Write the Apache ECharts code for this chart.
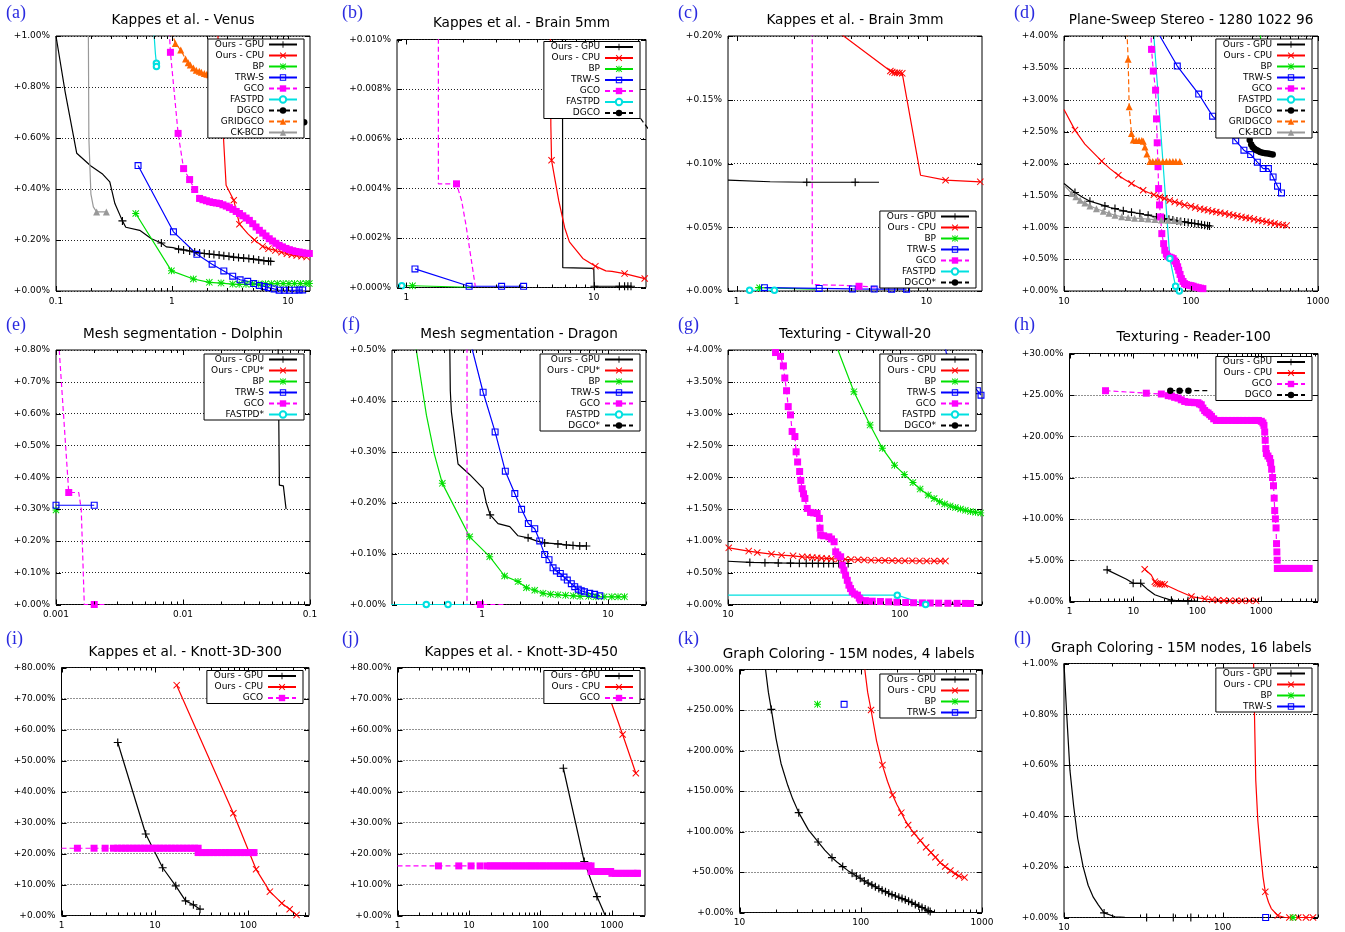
<!DOCTYPE html>
<html><head><meta charset="utf-8">
<script src="https://cdn.jsdelivr.net/npm/echarts@6/dist/echarts.min.js"></script>
<style>html,body{margin:0;padding:0;background:#fff}#c{width:1345px;height:932px}</style>
</head><body><div id="c"></div>
<script>
// ---------------- DATA (x = time, y = % above optimum) ----------------
// (a) Kappes et al. - Venus
const A_GPU = [[0.1,1.0],[0.12,0.78],[0.151,0.54],[0.2,0.49],[0.25,0.46],[0.291,0.428],[0.322,0.343],[0.374,0.275],[0.40,0.25],[0.527,0.238],[0.665,0.205],[0.81,0.188],[0.894,0.173],[1.02,0.170],[1.14,0.164],[1.26,0.161],[1.42,0.157],[1.57,0.153],[1.73,0.149],[1.9,0.147],[2.1,0.145],[2.3,0.143],[2.55,0.141],[2.8,0.138],[3.1,0.136],[3.4,0.133],[3.75,0.131],[4.15,0.129],[4.6,0.127],[5.05,0.125],[5.6,0.122],[6.2,0.119],[6.8,0.117],[7.1,0.116]];
const A_CPU = [[2.49,1.0],[2.93,0.415],[3.41,0.356],[3.82,0.262],[4.5,0.225],[5.14,0.2],[6.05,0.175],[6.8,0.166],[7.8,0.159],[8.8,0.152],[9.8,0.146],[10.8,0.142],[11.9,0.139],[13.1,0.136],[14.5,0.133]];
const A_BP = [[0.487,0.304],[0.99,0.079],[1.53,0.047],[2.1,0.034],[2.65,0.031],[3.34,0.027],[3.8,0.026],[4.35,0.026],[4.95,0.027],[5.6,0.027],[6.4,0.028],[7.2,0.028],[8.1,0.029],[9.1,0.029],[10.2,0.029],[11.4,0.029],[12.8,0.029],[14.3,0.029],[15.3,0.029]];
const A_TRW = [[0.51,0.492],[1.03,0.232],[1.64,0.144],[2.22,0.105],[2.8,0.0785],[3.34,0.058],[3.87,0.044],[4.5,0.038],[5.07,0.029],[5.67,0.022],[6.25,0.018],[6.8,0.013],[7.6,0.008],[8.4,0.003],[9.3,0.003],[10.3,0.003],[11.5,0.003],[12.5,0.004],[13.4,0.004]];
const A_GCO = [[0.94,1.05],[0.97,0.936],[1.13,0.618],[1.26,0.48],[1.42,0.437],[1.57,0.398],[1.73,0.363],[1.85,0.358],[1.98,0.354],[2.11,0.350],[2.26,0.347],[2.41,0.345],[2.57,0.343],[2.75,0.338],[2.94,0.333],[3.13,0.327],[3.35,0.320],[3.58,0.312],[3.82,0.304],[4.08,0.295],[4.36,0.286],[4.65,0.277],[4.97,0.264],[5.31,0.251],[5.67,0.238],[6.06,0.227],[6.47,0.216],[6.9,0.205],[7.37,0.196],[7.87,0.187],[8.4,0.179],[8.97,0.173],[9.62,0.167],[10.3,0.162],[11.0,0.158],[11.7,0.155],[12.5,0.153],[13.4,0.150],[14.3,0.148],[15.3,0.147]];
const A_FAST = [[0.69,1.05],[0.72,0.93],[0.734,0.893],[0.735,0.88]];
const A_DGCO = [[13.8,0.662]];
const A_GRID = [[0.99,1.02],[1.07,0.971],[1.19,0.945],[1.31,0.91],[1.38,0.895],[1.44,0.886],[1.53,0.875],[1.62,0.866],[1.72,0.862],[1.79,0.858],[1.9,0.853],[2.0,0.85],[2.1,0.848]];
const A_CK = [[0.19,1.05],[0.192,0.6],[0.2,0.38],[0.21,0.33],[0.224,0.31],[0.272,0.31]];
// (b) Brain 5mm
const B_GPU = [[6.8,0.011],[6.83,0.0008],[7.0,0.00077],[10.0,0.00077],[10.05,0.00005],[10.08,0.00005],[13.7,0.00005],[14.6,0.00005],[15.2,0.00005],[15.8,0.00005]];
const B_CPU = [[5.85,0.011],[5.9,0.0065],[5.95,0.00513],[6.5,0.0035],[7.0,0.0024],[7.41,0.00184],[8.74,0.00117],[10.2,0.00086],[11.6,0.00067],[12.5,0.00065],[14.6,0.00056],[18.7,0.00036]];
const B_BP = [[0.95,0.00007],[1.077,0.00007],[2.2,0.00001]];
const B_TRW = [[1.11,0.00075],[2.16,0.00005],[3.22,0.00005],[4.22,0.00005]];
const B_GCO = [[1.48,0.011],[1.48,0.00418],[1.85,0.00418],[1.97,0.0035],[2.08,0.0025],[2.33,0.00005]];
const B_FAST = [[0.89,0.00007],[0.944,0.00007]];
const B_DGCO = [[17.3,0.011],[17.45,0.0069],[19.5,0.0064]];
// (c) Brain 3mm
const C_GPU = [[0.9,0.087],[1.5,0.0857],[2.34,0.0853],[4.21,0.0853],[5.62,0.0853]];
const C_CPU = [[3.3,0.205],[6.45,0.1725],[6.6,0.1718],[6.8,0.1712],[7.0,0.1711],[7.2,0.171],[7.45,0.1707],[9.3,0.0908],[12.6,0.0869],[19.2,0.0856]];
const C_BP = [[1.25,0.0026],[1.32,0.0026],[2.6,0.0015]];
const C_TRW = [[1.4,0.0026],[2.72,0.002],[4.07,0.0016],[5.3,0.0015],[6.55,0.0014],[7.85,0.0014]];
const C_GCO = [[2.5,0.21],[2.5,0.005],[3.5,0.0045],[4.41,0.0037],[5.18,0.0032],[6.6,0.0028]];
const C_FAST = [[1.17,0.0005],[1.58,0.0005]];
const C_DGCO = [];
// (d) Plane-Sweep Stereo
const D_GPU = [[10,1.686],[12.2,1.545],[14,1.47],[16.0,1.408],[18.5,1.37],[21,1.335],[23,1.31],[25.2,1.293],[27,1.275],[29.3,1.257],[31.5,1.245],[34,1.236],[36.5,1.225],[39.6,1.215],[42.5,1.2],[46,1.19],[49.5,1.175],[53.4,1.162],[57.5,1.148],[62,1.136],[67,1.125],[72,1.113],[77.5,1.1],[83,1.09],[89,1.084],[95,1.073],[101,1.065],[107,1.058],[114,1.05],[121,1.04],[128,1.031],[135,1.025],[140,1.02]];
const D_CPU = [[10,2.848],[12.2,2.524],[14.6,2.304],[17,2.17],[19.8,2.037],[23,1.92],[26.8,1.817],[30,1.75],[34,1.686],[38,1.63],[42,1.58],[46,1.545],[51,1.51],[56.9,1.476],[62,1.45],[68,1.42],[74.5,1.398],[81,1.375],[89,1.35],[100,1.33],[108,1.31],[118,1.29],[127,1.28],[136,1.267],[147,1.25],[158,1.24],[170,1.228],[185,1.215],[200,1.2],[215,1.19],[232,1.175],[250,1.162],[270,1.15],[290,1.14],[313,1.125],[338,1.11],[364,1.1],[393,1.085],[424,1.07],[456,1.058],[490,1.045],[528,1.035],[566,1.026]];
const D_BP = [[345,4.3],[352,4.0],[358,3.8]];
const D_TRW = [[56.9,4.0],[78,3.529],[115,3.09],[148,2.743],[185,2.55],[225,2.356],[261,2.209],[295,2.141],[333,2.021],[370,1.92],[407,1.92],[443,1.79],[480,1.644],[516,1.539]];
const D_GCO = [[48.3,4.1],[48.9,3.79],[50.5,3.45],[52.6,3.15],[53.5,2.7],[54.2,2.325],[55,1.95],[55.6,1.607],[56.5,1.35],[57.6,1.162],[58.9,0.9],[60.9,0.743],[62.2,0.639],[64,0.58],[65.5,0.545],[68,0.53],[70,0.52],[72.4,0.508],[74.5,0.47],[76.8,0.43],[78.5,0.38],[80,0.325],[82,0.26],[84,0.194],[86.5,0.15],[89,0.115],[92,0.1],[96,0.09],[100,0.084],[104,0.075],[109,0.062],[114,0.052],[119,0.044],[124,0.037]];
const D_FAST = [[51,4.0],[68.2,0.508],[75.6,0.073],[80.9,0.0]];
const D_DGCO = [[280,2.7],[290,2.37],[298,2.3],[306,2.26],[316,2.23],[326,2.21],[336,2.2],[350,2.18],[367,2.168],[385,2.16],[404,2.157],[420,2.15],[440,2.14]];
const D_GRID = [[31.1,4.2],[32.0,3.634],[32.6,2.89],[34,2.47],[35.1,2.37],[37,2.36],[39,2.36],[41,2.36],[42.1,2.35],[43.4,2.26],[45,2.15],[47.5,2.03],[50,2.03],[53,2.03],[56,2.03],[60,2.03],[64,2.03],[68,2.03],[72,2.03],[76,2.03],[81.6,2.03]];
const D_CK = [[10,1.66],[11.5,1.53],[12.4,1.48],[13.4,1.424],[14.6,1.38],[16,1.335],[18,1.29],[20.4,1.251],[22.6,1.22],[25.2,1.188],[28.5,1.165],[32,1.152],[36,1.143],[40.8,1.136],[46,1.128],[52,1.12],[58.5,1.115],[66.2,1.11],[73.5,1.105],[81.6,1.10]];
// (e) Mesh segmentation - Dolphin
const E_GPU = [[0.056,0.85],[0.0574,0.375],[0.0617,0.373],[0.0648,0.3]];
const E_CPU = [];
const E_BP = [[0.001,0.297]];
const E_TRW = [[0.001,0.312],[0.002,0.312]];
const E_GCO = [[0.00104,0.85],[0.00126,0.352],[0.00151,0.352],[0.00158,0.3],[0.00167,0.0],[0.002,0.0],[0.0024,0.0]];
const E_FAST = [];
// (f) Mesh segmentation - Dragon
const F_GPU = [[0.554,0.52],[0.56,0.42],[0.571,0.379],[0.645,0.276],[0.8,0.255],[1.02,0.228],[1.08,0.2],[1.16,0.176],[1.34,0.159],[1.66,0.153],[1.93,0.135],[2.32,0.131],[2.7,0.125],[3.14,0.121],[4.0,0.119],[4.67,0.117],[5.27,0.116],[5.96,0.115],[6.73,0.115]];
const F_CPU = [];
const F_BP = [[0.295,0.52],[0.301,0.5],[0.362,0.372],[0.42,0.294],[0.484,0.238],[0.798,0.133],[1.15,0.094],[1.51,0.056],[1.93,0.045],[2.25,0.033],[2.62,0.028],[3.05,0.022],[3.5,0.02],[4,0.019],[4.6,0.018],[5.3,0.017],[6,0.016],[7,0.016],[8,0.015],[9.3,0.015],[10.7,0.015],[12,0.015],[13.5,0.015]];
const F_TRW = [[0.8,0.52],[1.02,0.417],[1.27,0.339],[1.53,0.262],[1.82,0.218],[2.06,0.187],[2.33,0.159],[2.62,0.149],[2.87,0.125],[3.14,0.098],[3.4,0.088],[3.66,0.072],[3.89,0.066],[4.18,0.061],[4.47,0.054],[4.75,0.048],[5.11,0.041],[5.44,0.035],[5.8,0.03],[6.13,0.027],[6.5,0.025],[7.15,0.022],[7.82,0.02],[8.6,0.017]];
const F_GCO = [[0.76,0.52],[0.76,0.0],[0.97,0.0],[1.5,0.0]];
const F_FAST = [[0.19,0.0],[0.361,0.0],[0.537,0.0],[0.8,0.0]];
const F_DGCO = [];
// (g) Texturing - Citywall-20
const G_GPU = [[10,0.68],[13.4,0.662],[16.4,0.657],[19.6,0.653],[23.1,0.65],[26,0.648],[28.5,0.647],[31,0.646],[33.5,0.646],[36,0.645],[38.5,0.645],[41,0.645],[44,0.645],[47,0.645],[50,0.645]];
const G_CPU = [[10.1,0.89],[13.2,0.839],[14.8,0.818],[17.9,0.792],[20.5,0.776],[23.9,0.765],[27,0.75],[29,0.745],[30.9,0.739],[33,0.733],[35,0.728],[37.5,0.724],[40,0.72],[44,0.715],[48,0.71],[52,0.706],[57,0.703],[62,0.70],[68,0.697],[75,0.694],[82,0.692],[90,0.69],[98,0.688],[107,0.687],[118,0.686],[130,0.685],[143,0.684],[158,0.683],[172,0.682],[184,0.682]];
const G_BP = [[43.6,4.0],[54,3.345],[67,2.82],[79,2.455],[93,2.19],[106,2.045],[119,1.918],[131,1.814],[146,1.72],[158,1.667],[170,1.615],[182,1.58],[196,1.55],[210,1.525],[225,1.5],[240,1.48],[257,1.46],[275,1.45],[295,1.44]];
const G_TRW = [[182,4.1],[186,3.95],[282,3.36],[296,3.29]];
const G_GCO = [[18.9,3.96],[20.2,3.9],[21.0,3.75],[21.4,3.56],[21.9,3.36],[22.4,3.11],[23.1,2.98],[23.6,2.72],[24.5,2.64],[24.9,2.4],[25.4,2.24],[26.1,2.09],[26.5,1.95],[27,1.82],[27.5,1.74],[28,1.667],[28.9,1.51],[30.2,1.447],[31.5,1.44],[33,1.43],[34,1.353],[34.3,1.2],[34.6,1.09],[36,1.08],[38.6,1.064],[40,1.03],[41.4,0.986],[42.3,0.828],[43.5,0.78],[45.2,0.75],[46.2,0.619],[47.2,0.54],[48.3,0.461],[49.4,0.38],[50.5,0.304],[51.6,0.25],[52.8,0.199],[54.5,0.165],[56.6,0.147],[58,0.1],[59,0.068],[63,0.06],[69,0.052],[77,0.047],[86,0.042],[96,0.037],[108,0.031],[120,0.028],[135,0.025],[150,0.023],[168,0.021],[190,0.019],[215,0.018],[240,0.017],[257,0.016]];
const G_FAST = [[10,0.147],[96.5,0.147],[141,0.0]];
const G_DGCO = [];
// (h) Texturing - Reader-100
const H_GPU = [[3.88,3.83],[7.8,2.7],[9.9,2.2],[13,2.2],[16.9,1.41],[21.6,0.81],[30.8,0.4],[39.3,0.15],[71.3,0.08],[102,0.04]];
const H_CPU = [[15,3.9],[19,3.2],[21.6,2.4],[22.5,2.2],[24,2.15],[26,2.1],[28,2.1],[30.8,2.05],[50,1.3],[80.7,0.6],[130,0.32],[170,0.2],[210,0.15],[260,0.12],[320,0.1],[400,0.09],[500,0.08],[650,0.08],[830,0.08]];
const H_GCO = [[3.66,25.5],[15.9,25.2],[27.3,25.1],[35,24.9],[39.3,24.85],[44,24.7],[49.8,24.6],[56,24.4],[63.3,24.2],[72,24.1],[80,24.1],[90,24.05],[102,24.05],[108,23.9],[115,23.8],[122,23.4],[130,23.1],[138,22.9],[147,22.8],[156,22.6],[166,22.4],[180,22.1],[198,21.9],[230,21.9],[260,21.9],[300,21.9],[350,21.9],[400,21.9],[450,21.9],[520,21.9],[600,21.9],[700,21.9],[800,21.9],[900,21.9],[1000,21.8],[1060,21.6],[1100,21.3],[1130,20.5],[1150,19.5],[1175,18.5],[1200,17.9],[1270,17.6],[1350,17.3],[1400,16.8],[1450,16],[1500,15],[1550,14],[1590,12.5],[1620,11],[1660,10],[1700,8.9],[1730,7],[1750,6],[1770,5],[1780,4.0],[1900,4.0],[2100,4.0],[2300,4.0],[2600,4.0],[2900,4.0],[3300,4.0],[3700,4.0],[4200,4.0],[4800,4.0],[5600,4.0]];
const H_DGCO = [[37.7,25.5],[52.7,25.5],[72.4,25.5],[150,25.5]];
// (i) Knott-3D-300
const I_GPU = [[4.0,55.8],[7.97,26.3],[12.1,15.4],[16.7,9.56],[21.3,4.72],[25.8,3.44],[30.4,2.04]];
const I_CPU = [[17.1,74.3],[69.1,33],[121,14.9],[170,7.7],[228,3.97],[277,2.04],[328,0.2]];
const I_GCO = [[1.0,21.7],[1.48,21.7],[2.23,21.7],[2.93,21.7],[3.6,21.7],[4.0,21.7],[4.4,21.7],[4.85,21.7],[5.3,21.7],[5.85,21.7],[6.4,21.7],[7.05,21.7],[7.75,21.7],[8.5,21.7],[9.35,21.7],[10.3,21.7],[11.3,21.7],[12.4,21.7],[13.7,21.7],[15,21.7],[16.5,21.7],[18.2,21.7],[20,21.7],[22,21.7],[24.2,21.7],[26.6,21.7],[29,21.7],[29,20.3],[32,20.3],[35.2,20.3],[38.7,20.3],[42.6,20.3],[46.8,20.3],[51.5,20.3],[56.7,20.3],[62.3,20.3],[68.6,20.3],[75.4,20.3],[83,20.3],[91.3,20.3],[100,20.3],[110,20.3],[115,20.3]];
// (j) Knott-3D-450
const J_GPU = [[209,47.5],[410,17.4],[617,6.1],[806,0.0]];
const J_CPU = [[870,72],[1410,58.4],[2160,45.9]];
const J_GCO = [[1,16],[3.74,16],[7.2,16],[10.7,16],[14.3,16],[18,16],[20,16],[22.5,16],[25,16],[28,16],[31.5,16],[35,16],[39.5,16],[44,16],[49.5,16],[55,16],[62,16],[69,16],[77,16],[86,16],[97,16],[108,16],[121,16],[136,16],[152,16],[170,16],[190,16],[213,16],[239,16],[267,16],[300,16],[335,16],[375,16],[420,16],[470,16],[510,16],[510,14.2],[560,14.2],[620,14.2],[690,14.2],[770,14.2],[860,14.2],[960,14.2],[1000,13.6],[1120,13.6],[1250,13.6],[1400,13.6],[1570,13.6],[1760,13.6],[1970,13.6],[2200,13.6],[2280,13.6]];
// (k) Graph Coloring - 4 labels
const K_GPU = [[16.4,300],[17.3,272],[18.3,250.7],[20,215],[22,184],[25,157],[27.5,140],[30.8,123.3],[37,102],[44.5,87.1],[50.5,77],[57.9,67.8],[64,62],[71,56.7],[78,52],[84.8,48.5],[92,45],[99,42.3],[107,39],[115,36.3],[123.6,34.1],[132,31.8],[141,29.7],[150,27.5],[160,25.7],[170,23.8],[181,22],[193,20.4],[206,18.8],[219,17.2],[233,15.6],[248,13.8],[264,12],[282,10],[301,7.9],[320,6.2],[340,4.3],[360,2.5],[374,1.2]];
const K_CPU = [[108,300],[114,272],[121.6,250],[135,212],[151,182],[166,162],[183,145],[199,133],[216,123.3],[230,115],[246,108],[260,102.5],[276,97.8],[293,93],[310,88.8],[328,84.5],[346,80.5],[363,77],[380,74],[396,71],[413,68.2],[432,64.8],[452,61.6],[474,59],[497,56.7],[522,54],[549,51.8],[575,49.6],[602,47.7],[623,46.4],[644,45.2],[680,44],[717,43.2]];
const K_BP = [[44,257]];
const K_TRW = [[72.9,257]];
// (l) Graph Coloring - 16 labels
const L_GPU = [[10,1.0],[10.4,0.8],[10.9,0.58],[11.5,0.44],[12.2,0.311],[13.2,0.2],[14.2,0.127],[15.3,0.08],[16.5,0.049],[17.9,0.018],[21,0.003],[24.2,0.0005],[33.2,0.0],[48.9,0.0],[63.1,0.0],[70,0.0]];
const L_CPU = [[157,1.0],[159,0.8],[162,0.54],[167,0.38],[174,0.252],[180,0.16],[186,0.101],[195,0.06],[203,0.035],[223,0.008],[245,0.001],[264,0],[300,0],[336,0],[372,0]];
const L_BP = [[270,0],[278,0],[286,0]];
const L_TRW = [[187,0]];

// ---------------- STYLE ----------------
const rng = (a, b) => Array.from({length: b - a + 1}, (_, i) => a + i);
const PLUS = 'path://M4.3,0H5.7V10H4.3Z M0,4.3H10V5.7H0Z';
const CROSS = 'path://M0,1L1,0L10,9L9,10Z M9,0L10,1L1,10L0,9Z';
const STAR = 'path://M4.3,0H5.7V10H4.3Z M0,4.3H10V5.7H0Z M0,1L1,0L10,9L9,10Z M9,0L10,1L1,10L0,9Z';
const OSQ = 'path://M0,0H10V10H0Z M1.6,1.6V8.4H8.4V1.6Z';
const STY = {
  gpu:  {color:'#000000', sym:PLUS, size:8},
  cpu:  {color:'#ff0000', sym:CROSS, size:7},
  bp:   {color:'#00e000', sym:STAR, size:7},
  trw:  {color:'#0000ff', sym:OSQ, size:7},
  gco:  {color:'#ff00ff', sym:'rect', size:7, dash:true},
  fast: {color:'#00e0e0', sym:'emptyCircle', size:5.5, bw:1.2},
  dgco: {color:'#000000', sym:'circle', size:6.5, dash:true},
  grid: {color:'#ff6600', sym:'triangle', size:7, dash:true},
  ck:   {color:'#999999', sym:'triangle', size:7}
};
const FONT = 'DejaVu Sans';

const PANELS = [
 {id:'a', title:'Kappes et al. - Venus', rect:[56,36,254,255], x:[0.1,15.5], y:[0,1,0.2], dec:2, lg:[1041,39], ty:20.5,
  s:[['Ours - GPU','gpu',A_GPU,[7,11,...rng(14,33)]],['Ours - CPU','cpu',A_CPU,[2,3,...rng(5,14)]],['BP','bp',A_BP],['TRW-S','trw',A_TRW],['GCO','gco',A_GCO,1],['FASTPD','fast',A_FAST,[2,3]],['DGCO','dgco',A_DGCO],['GRIDGCO','grid',A_GRID,1],['CK-BCD','ck',A_CK,[4,5]]]},
 {id:'b', title:'Kappes et al. - Brain 5mm', rect:[397,39.5,249,248], x:[0.89,19], y:[0,0.01,0.002], dec:3, lg:[705,41.5], ty:23,
  s:[['Ours - GPU','gpu',B_GPU,rng(5,9)],['Ours - CPU','cpu',B_CPU,[2,7,10,11]],['BP','bp',B_BP,[1]],['TRW-S','trw',B_TRW],['GCO','gco',B_GCO,[2]],['FASTPD','fast',B_FAST,[1]],['DGCO','dgco',B_DGCO,[]]]},
 {id:'c', title:'Kappes et al. - Brain 3mm', rect:[728,36,254,255], x:[0.9,19.6], y:[0,0.2,0.05], dec:2, lg:[369,211], ty:20,
  s:[['Ours - GPU','gpu',C_GPU,[2,3]],['Ours - CPU','cpu',C_CPU,[1,2,3,4,5,6,8,9]],['BP','bp',C_BP,[1]],['TRW-S','trw',C_TRW],['GCO','gco',C_GCO,[3]],['FASTPD','fast',C_FAST],['DGCO*','dgco',C_DGCO]]},
 {id:'d', title:'Plane-Sweep Stereo - 1280 1022 96', rect:[1064,36,254,255], x:[10,1000], y:[0,4,0.5], dec:2, lg:[33,39], ty:20.5,
  s:[['Ours - GPU','gpu',D_GPU,[1,3,5,7,9,11,13,15,17,...rng(18,32)]],['Ours - CPU','cpu',D_CPU,[1,4,6,8,10,...rng(12,42)]],['BP','bp',D_BP,[]],['TRW-S','trw',D_TRW,1],['GCO','gco',D_GCO,1],['FASTPD','fast',D_FAST,[1,2,3]],['DGCO','dgco',D_DGCO,1],['GRIDGCO','grid',D_GRID,1],['CK-BCD','ck',D_CK,1]]},
 {id:'e', title:'Mesh segmentation - Dolphin', rect:[56,350,254,254.5], x:[0.001,0.1], y:[0,0.8,0.1], dec:2, lg:[1041,354], ty:334,
  s:[['Ours - GPU','gpu',E_GPU,[]],['Ours - CPU*','cpu',E_CPU],['BP','bp',E_BP],['TRW-S','trw',E_TRW],['GCO','gco',E_GCO,[1,5]],['FASTPD*','fast',E_FAST]]},
 {id:'f', title:'Mesh segmentation - Dragon', rect:[392,350,254,254.5], x:[0.193,20], y:[0,0.5,0.1], dec:2, lg:[705,354], ty:334,
  s:[['Ours - GPU','gpu',F_GPU,[7,11,13,14,15,16,17,18]],['Ours - CPU*','cpu',F_CPU],['BP','bp',F_BP,4],['TRW-S','trw',F_TRW,1],['GCO','gco',F_GCO,[2]],['FASTPD','fast',F_FAST,[1,2]],['DGCO*','dgco',F_DGCO]]},
 {id:'g', title:'Texturing - Citywall-20', rect:[728,350,254,254.5], x:[10,300], y:[0,4,0.5], dec:2, lg:[369,354], ty:334,
  s:[['Ours - GPU','gpu',G_GPU,1],['Ours - CPU','cpu',G_CPU],['BP','bp',G_BP,1],['TRW-S','trw',G_TRW,[2,3]],['GCO','gco',G_GCO],['FASTPD','fast',G_FAST,[1,2]],['DGCO*','dgco',G_DGCO]]},
 {id:'h', title:'Texturing - Reader-100', rect:[1069.5,353.5,248.5,248], x:[1,7700], y:[0,30,5], dec:2, lg:[33,356.5], ty:337,
  s:[['Ours - GPU','gpu',H_GPU,[0,2,3,7,8]],['Ours - CPU','cpu',H_CPU,[0,2,3,4,5,6,7,...rng(9,18)]],['GCO','gco',H_GCO],['DGCO','dgco',H_DGCO,[0,1,2]]]},
 {id:'i', title:'Kappes et al. - Knott-3D-300', rect:[61.5,667.5,247.5,248], x:[1,446], y:[0,80,10], dec:2, lg:[1042,670.5], ty:652,
  s:[['Ours - GPU','gpu',I_GPU],['Ours - CPU','cpu',I_CPU],['GCO','gco',I_GCO,1]]},
 {id:'j', title:'Kappes et al. - Knott-3D-450', rect:[397.5,667.5,247.5,248], x:[1,2900], y:[0,80,10], dec:2, lg:[705,670.5], ty:652,
  s:[['Ours - GPU','gpu',J_GPU,[0,1,2]],['Ours - CPU','cpu',J_CPU,[1,2]],['GCO','gco',J_GCO,1]]},
 {id:'k', title:'Graph Coloring - 15M nodes, 4 labels', rect:[739.5,669.5,242.5,243], x:[10,1000], y:[0,300,50], dec:2, lg:[369,674], ty:654, tx:848.7,
  s:[['Ours - GPU','gpu',K_GPU,[2,7,9,11,13,15,...rng(16,38)]],['Ours - CPU','cpu',K_CPU,rng(1,16).map(i=>i*2)],['BP','bp',K_BP],['TRW-S','trw',K_TRW]]},
 {id:'l', title:'Graph Coloring - 15M nodes, 16 labels', rect:[1064,663.5,254,254], x:[10,400], y:[0,1,0.2], dec:2, lg:[33,668], ty:648, tx:1181.3,
  s:[['Ours - GPU','gpu',L_GPU,[9,12,13,14]],['Ours - CPU','cpu',L_CPU,[6,9,11,12,13,14]],['BP','bp',L_BP,[1]],['TRW-S','trw',L_TRW]]}
];
const LETTER_POS = {a:[6,13],b:[342,13],c:[678,13],d:[1014,13],e:[6,325.5],f:[342,325.5],g:[678,325.5],h:[1014,325.5],i:[6,639.5],j:[342,639.5],k:[678,639.5],l:[1014,639.5]};

function mkSeries(gi, name, key, data, marks) {
  const s = STY[key];
  let sizeFn = s.size;
  if (typeof marks === 'number') { const k = marks; sizeFn = (v, p) => p.dataIndex >= k ? s.size : 0; }
  else if (Array.isArray(marks)) { const set = new Set(marks); sizeFn = (v, p) => set.has(p.dataIndex) ? s.size : 0; }
  return {
    type:'line', name, xAxisIndex:gi, yAxisIndex:gi, data,
    symbol:s.sym, symbolSize:sizeFn, showSymbol:true, clip:true,
    lineStyle:{color:s.color, width:1.2, type: s.dash ? [5,3] : 'solid'},
    itemStyle:{color:s.color, borderColor:s.color, borderWidth: s.bw || 0},
    emphasis:{disabled:true}, silent:true, z:2
  };
}

function tickSeries(gi, P) {
  const data = [];
  const [x0, x1] = P.x;
  for (let k = Math.floor(Math.log10(x0)) - 1; k <= Math.ceil(Math.log10(x1)); k++) {
    for (let m = 1; m <= 9; m++) {
      const v = m * Math.pow(10, k);
      if (v >= x0 * 0.9999 && v <= x1 * 1.0001) data.push([v, P.y[0], m === 1 ? 0 : 1]);
    }
  }
  const n = Math.round((P.y[1] - P.y[0]) / P.y[2]);
  for (let j = 0; j <= n; j++) data.push([x0, P.y[0] + j * P.y[2], 2]);
  return {
    type:'custom', xAxisIndex:gi, yAxisIndex:gi, data, silent:true, clip:false, z:3,
    dimensions:['x','y','k'], encode:{x:0, y:1},
    renderItem: function (params, api) {
      const cs = params.coordSys;
      const kind = api.value(2);
      const p = api.coord([api.value(0), api.value(1)]);
      const st = {stroke:'#000', lineWidth:1};
      if (kind < 2) {
        const L = kind === 0 ? 5 : 3;
        const x = Math.round(p[0]) + 0.5;
        return {type:'group', children:[
          {type:'line', shape:{x1:x, y1:cs.y + cs.height, x2:x, y2:cs.y + cs.height - L}, style:st},
          {type:'line', shape:{x1:x, y1:cs.y, x2:x, y2:cs.y + L}, style:st}]};
      }
      const y = Math.round(p[1]) + 0.5;
      return {type:'group', children:[
        {type:'line', shape:{x1:cs.x, y1:y, x2:cs.x + 5, y2:y}, style:st},
        {type:'line', shape:{x1:cs.x + cs.width, y1:y, x2:cs.x + cs.width - 5, y2:y}, style:st}]};
    }
  };
}

const option = {animation:false, backgroundColor:'#fff', grid:[], xAxis:[], yAxis:[], series:[], legend:[], graphic:[]};
PANELS.forEach((P, i) => {
  const [l, t, w, h] = P.rect;
  option.grid.push({left:l, top:t, width:w, height:h, show:true, borderColor:'#000', borderWidth:1,
    backgroundColor:'#fff', containLabel:false, outerBoundsMode:'none'});
  option.xAxis.push({type:'log', logBase:10, gridIndex:i, min:P.x[0], max:P.x[1],
    axisLine:{show:false}, axisTick:{show:false}, splitLine:{show:false}, minorTick:{show:false},
    axisLabel:{fontSize:9, fontFamily:FONT, color:'#000', margin:6,
      formatter: v => { const lg = Math.log10(v); const k = Math.round(lg);
        return Math.abs(lg - k) < 1e-6 ? String(parseFloat(Math.pow(10, k).toPrecision(8))) : ''; }}});
  option.yAxis.push({type:'value', gridIndex:i, min:P.y[0], max:P.y[1], interval:P.y[2],
    axisLine:{show:false}, axisTick:{show:false},
    splitLine:{show:true, lineStyle:{color:'#222', width:1, type:[1,2]}},
    axisLabel:{fontSize:9, fontFamily:FONT, color:'#000', margin:6,
      formatter: v => '+' + v.toFixed(P.dec) + '%'}});
  P.s.forEach(s => option.series.push(mkSeries(i, s[0], s[1], s[2], s[3])));
  option.series.push(tickSeries(i, P));
  option.legend.push({orient:'vertical', align:'right', right:P.lg[0], top:P.lg[1],
    itemWidth:28, itemHeight:8, itemGap:2, padding:[1,6,1,7],
    backgroundColor:'#fff', borderColor:'#000', borderWidth:1, borderRadius:0,
    selectedMode:false, z:10,
    textStyle:{fontSize:9, fontFamily:FONT, color:'#000'},
    data:P.s.map(s => s[0])});
  option.graphic.push({type:'text', x:(P.tx !== undefined ? P.tx : l + w / 2), y:P.ty, silent:true, z:10,
    style:{text:P.title, fontSize:13.6, fontFamily:FONT, fill:'#000', align:'center', verticalAlign:'middle'}});
  const lp = LETTER_POS[P.id];
  option.graphic.push({type:'text', x:lp[0], y:lp[1], silent:true, z:10,
    style:{text:'(' + P.id + ')', fontSize:18, fontFamily:'Liberation Serif', fill:'#2a2ae0', align:'left', verticalAlign:'middle'}});
});

const chart = echarts.init(document.getElementById('c'), null, {renderer:'canvas'});
chart.setOption(option);
</script>
</body></html>
